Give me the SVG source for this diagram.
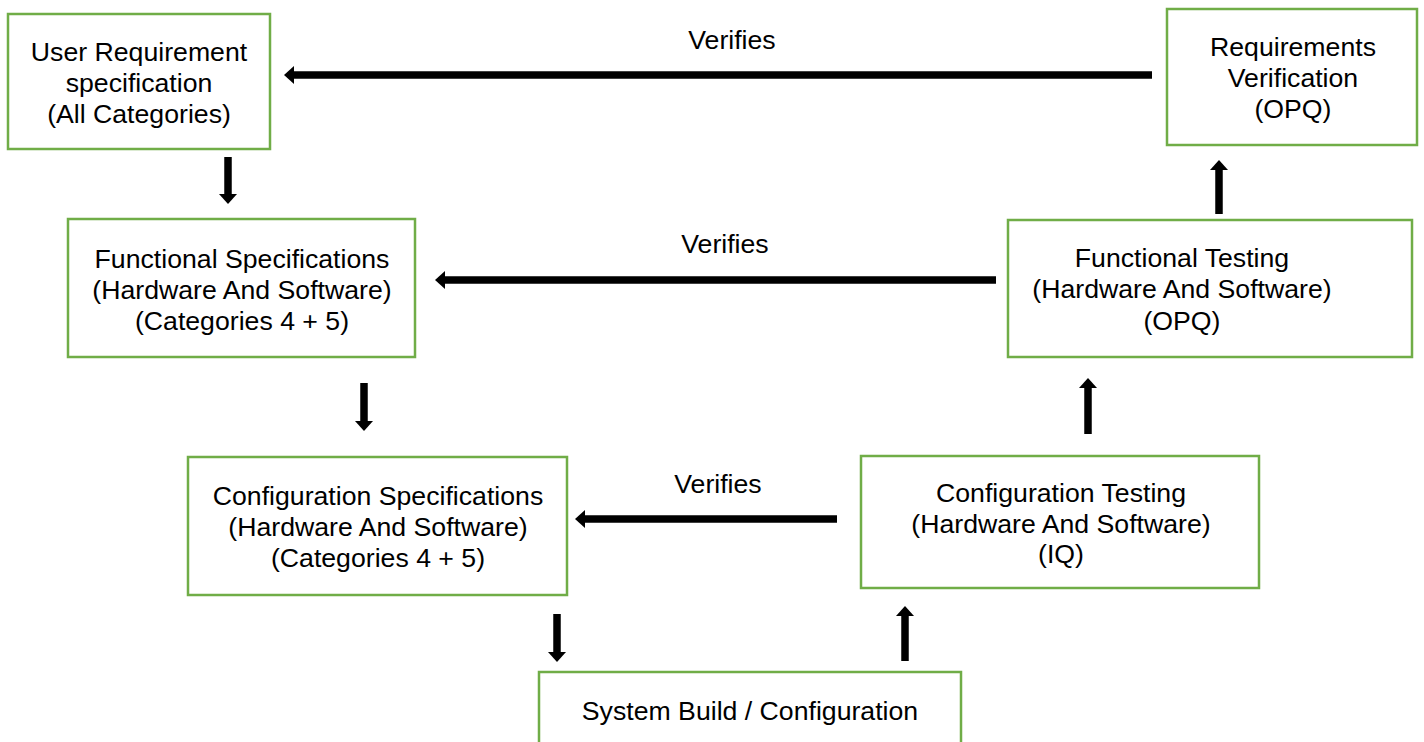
<svg xmlns="http://www.w3.org/2000/svg" width="1424" height="742" viewBox="0 0 1424 742">
<style>
.box{fill:#fff;stroke:#70AD47;stroke-width:2.5}
.t{font-family:"Liberation Sans",Arial,sans-serif;font-size:26.67px;fill:#000;text-anchor:middle}
.c{stroke:#000;stroke-width:7.5;fill:none;marker-end:url(#ah)}
</style>
<defs>
<marker id="ah" markerUnits="userSpaceOnUse" markerWidth="10" markerHeight="18" viewBox="0 0 10 18" refX="0" refY="9" orient="auto">
<polygon points="0,0 10,9 0,18" fill="#000"/>
</marker>
</defs>
<rect width="1424" height="742" fill="#fff"/>
<g id="connectors">
<line class="c" x1="1152" y1="75" x2="294" y2="75"/>
<line class="c" x1="996" y1="280" x2="445" y2="280"/>
<line class="c" x1="837" y1="519" x2="585" y2="519"/>
<line class="c" x1="228" y1="157" x2="228" y2="194"/>
<line class="c" x1="364" y1="383" x2="364" y2="421"/>
<line class="c" x1="557" y1="614" x2="557" y2="652"/>
<line class="c" x1="905" y1="661" x2="905" y2="616"/>
<line class="c" x1="1088" y1="434" x2="1088" y2="388"/>
<line class="c" x1="1219" y1="214" x2="1219" y2="170"/>
<text class="t" x="732" y="49">Verifies</text>
<text class="t" x="725" y="253">Verifies</text>
<text class="t" x="718" y="493">Verifies</text>
</g>
<g id="n1">
<rect class="box" x="8" y="14" width="262" height="135"/>
<text class="t" x="139" y="61">User Requirement</text>
<text class="t" x="139" y="92">specification</text>
<text class="t" x="139" y="123">(All Categories)</text>
</g>
<g id="n2">
<rect class="box" x="1167" y="9" width="250" height="136"/>
<text class="t" x="1293" y="56">Requirements</text>
<text class="t" x="1293" y="87">Verification</text>
<text class="t" x="1293" y="118">(OPQ)</text>
</g>
<g id="n3">
<rect class="box" x="68" y="219" width="347" height="138"/>
<text class="t" x="242" y="268">Functional Specifications</text>
<text class="t" x="242" y="299">(Hardware And Software)</text>
<text class="t" x="242" y="330">(Categories 4 + 5)</text>
</g>
<g id="n4">
<rect class="box" x="1008" y="220" width="404" height="137"/>
<text class="t" x="1182" y="267">Functional Testing</text>
<text class="t" x="1182" y="298">(Hardware And Software)</text>
<text class="t" x="1182" y="330">(OPQ)</text>
</g>
<g id="n5">
<rect class="box" x="188" y="457" width="379" height="138"/>
<text class="t" x="378" y="505">Configuration Specifications</text>
<text class="t" x="378" y="536">(Hardware And Software)</text>
<text class="t" x="378" y="567">(Categories 4 + 5)</text>
</g>
<g id="n6">
<rect class="box" x="861" y="456" width="398" height="132"/>
<text class="t" x="1061" y="502">Configuration Testing</text>
<text class="t" x="1061" y="533">(Hardware And Software)</text>
<text class="t" x="1061" y="563">(IQ)</text>
</g>
<g id="n7">
<rect class="box" x="539" y="672" width="422" height="90"/>
<text class="t" x="750" y="720">System Build / Configuration</text>
</g>
</svg>
